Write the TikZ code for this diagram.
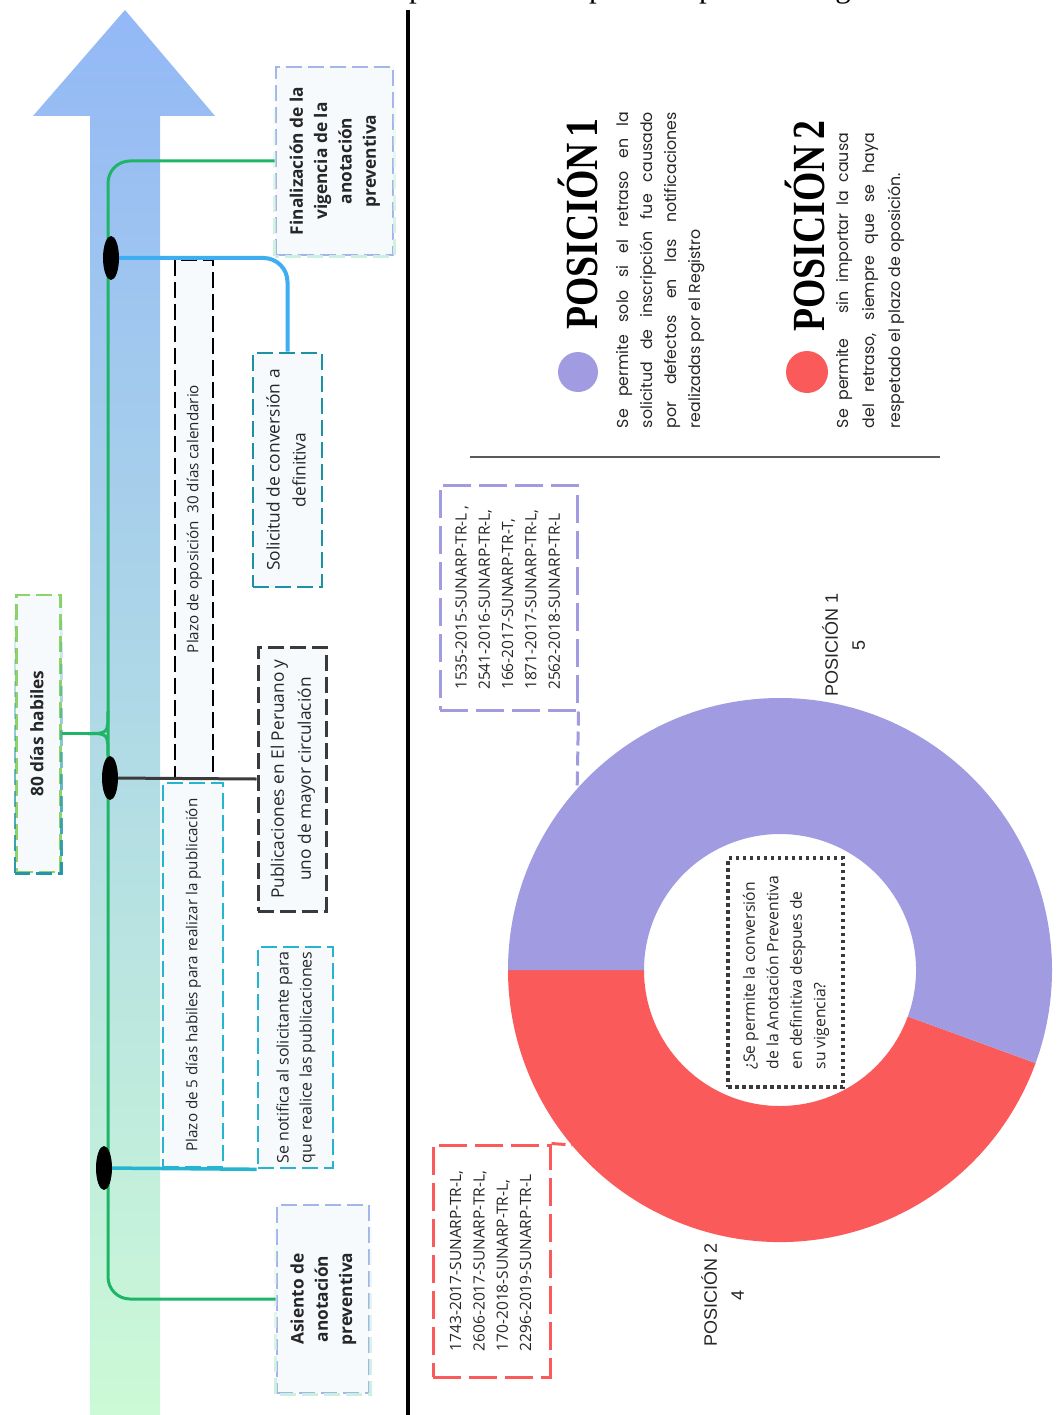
\documentclass[tikz,border=0pt]{standalone}
\usepackage{fontspec}
\usepackage{graphicx}
\setmainfont{Open Sans}
\newfontfamily\legfont{Poppins}
\newfontfamily\titlefont{Liberation Serif}
\newfontfamily\chartfont{Liberation Sans}
\usetikzlibrary{shapes.geometric,fadings}

\definecolor{ink}{HTML}{262626}
\definecolor{arrowtop}{RGB}{147,184,246}
\definecolor{arrowmid}{RGB}{170,207,236}
\definecolor{arrowbot}{RGB}{204,250,214}
\definecolor{spine}{RGB}{30,182,102}
\definecolor{skyline}{RGB}{62,174,240}
\definecolor{cyanline}{RGB}{38,180,208}
\definecolor{tealline}{RGB}{28,146,162}
\definecolor{darkline}{RGB}{58,58,58}
\definecolor{boxfill}{RGB}{247,250,253}
\definecolor{lavtop}{RGB}{166,180,236}
\definecolor{mintbot}{RGB}{204,240,222}
\definecolor{limetop}{RGB}{140,212,106}
\definecolor{tealbot}{RGB}{36,150,170}
\definecolor{posone}{RGB}{161,155,225}
\definecolor{postwo}{RGB}{251,90,90}
\definecolor{rulegray}{RGB}{90,90,90}

\tikzfading[name=fadedown, top color=transparent!100, bottom color=transparent!0]

% vertical (bottom-to-top) text block
\newcommand{\uptext}[2][c]{\rotatebox{90}{\begin{tabular}{@{}#1@{}}#2\end{tabular}}}

\tikzset{
  tlbox/.style={rectangle, fill=boxfill, inner sep=0pt, line width=2.6pt, dash pattern=on 16pt off 6pt, text=ink},
  gradedge/.style={line width=2.6pt, dash pattern=on 16pt off 6pt, path fading=fadedown, fit fading=true},
  dotmark/.style={ellipse, fill=black, minimum width=16pt, minimum height=44pt, inner sep=0pt},
  spineline/.style={draw=spine, line width=3pt},
  reflabel/.style={rectangle, fill=white, inner sep=0pt, line width=3pt, dash pattern=on 28pt off 8pt, text=ink, font=\fontsize{15.5}{23.3}\selectfont},
}

\begin{document}
\begin{tikzpicture}[x=1pt,y=-1pt]
\useasboundingbox (0,0) rectangle (1057,1415);
\clip (0,0) rectangle (1057,1415);
\fill[white] (0,0) rectangle (1057,1415);

% caption line running above the page edge
\node[anchor=base east, inner sep=0, text=black, font=\titlefont\fontsize{31}{31}\selectfont] (caption) at (924,-2.5) {de conversión de la anotación preventiva después del plazo de vigencia.};

% time arrow
\shade[top color=arrowtop, middle color=arrowmid, bottom color=arrowbot]
  (125,10) -- (215,116) -- (160,116) -- (160,1415) -- (90,1415) -- (90,116) -- (33,116) -- cycle;

% ---------- timeline boxes ----------
\node[tlbox, draw=lavtop, minimum width=117pt, minimum height=188pt, font=\bfseries\fontsize{17.3}{24.3}\selectfont] (finbox) at (334.5,161)
  {\uptext{Finalización de la\\vigencia de la\\anotación\\preventiva}};
\draw[gradedge, mintbot] (finbox.south west) rectangle (finbox.north east);

\node[tlbox, draw=lavtop, minimum width=92pt, minimum height=188pt, font=\bfseries\fontsize{17.3}{24.3}\selectfont] (asibox) at (323,1299)
  {\uptext{Asiento de\\anotación\\preventiva}};
\draw[gradedge, mintbot] (asibox.south west) rectangle (asibox.north east);

\node[tlbox, draw=limetop, minimum width=44pt, minimum height=277pt, font=\bfseries\fontsize{17.3}{24}\selectfont] (diasbox) at (38.5,733.5)
  {\uptext{80 días habiles}};
\draw[gradedge, tealbot] (diasbox.south west) rectangle (diasbox.north east);

\node[tlbox, draw=black, minimum width=38pt, minimum height=518pt, font=\fontsize{15.2}{22}\selectfont] (opobox) at (194,519)
  {\uptext{Plazo de oposición\ \ 30 días calendario}};

\node[tlbox, draw=tealline, minimum width=69pt, minimum height=234pt, font=\fontsize{17.4}{26}\selectfont] (solbox) at (287.5,470)
  {\uptext{Solicitud de conversión a\\definitiva}};

\node[tlbox, draw=darkline, line width=3pt, minimum width=68pt, minimum height=264pt, font=\fontsize{17.3}{27}\selectfont] (pubbox) at (292,779)
  {\uptext{Publicaciones en El Peruano y\\uno de mayor circulación}};

\node[tlbox, draw=cyanline, minimum width=60pt, minimum height=384pt, font=\fontsize{15.2}{22}\selectfont] (cincobox) at (193,975)
  {\uptext{Plazo de 5 días habiles para realizar la publicación}};

\node[tlbox, draw=cyanline, minimum width=75pt, minimum height=221pt, font=\fontsize{16}{23}\selectfont] (notbox) at (295.5,1057.5)
  {\uptext{Se notifica al solicitante para\\que realice las publicaciones}};

% ---------- timeline connectors ----------
\coordinate (d1) at (111,258);
\coordinate (d2) at (110,778);
\coordinate (d3) at (104,1168);
\coordinate (spinemid) at (108,700);
\coordinate (bracetip) at (88,733.5);

\draw[spineline, rounded corners=22pt] (finbox.west) -| (spinemid) |- (asibox.west);
\draw[spineline] (diasbox.east) -- (bracetip);
\draw[spineline] (bracetip) .. controls (108,733.5) .. (108,711);
\draw[spineline] (bracetip) .. controls (108,733.5) .. (108,756);

\draw[skyline, line width=4pt, rounded corners=24pt] (d1) -| (solbox.north);
\draw[darkline, line width=3pt] (d2) -- (pubbox.west);
\draw[cyanline, line width=3.5pt] (d3) -- (notbox.south west);

\node[dotmark] (dot1) at (d1) {};
\node[dotmark] (dot2) at (d2) {};
\node[dotmark] (dot3) at (d3) {};

% divider
\draw[black, line width=4pt] (408,10) -- (408,1415);

% ---------- legend ----------
\node[circle, fill=posone, minimum size=40pt, inner sep=0] (leg1) at (578,372) {};
\node[inner sep=0, text=black] (ttl1) at (578,224)
  {\rotatebox{90}{\scalebox{0.82}[1]{\titlefont\bfseries\fontsize{46}{46}\selectfont POSICIÓN\,1}}};
\node[inner sep=0, text=ink] (txt1) at (661,270)
  {\rotatebox{90}{\parbox{316pt}{\legfont\fontsize{15.8}{24}\selectfont Se permite solo si el retraso en la\linebreak solicitud de inscripción fue causado\linebreak por defectos en las notificaciones\linebreak realizadas por el Registro}}};

\node[circle, fill=postwo, minimum size=42pt, inner sep=0] (leg2) at (807,372) {};
\node[inner sep=0, text=black] (ttl2) at (805,226)
  {\rotatebox{90}{\scalebox{0.82}[1]{\titlefont\bfseries\fontsize{46}{46}\selectfont POSICIÓN\,2}}};
\node[inner sep=0, text=ink] (txt2) at (871,280.5)
  {\rotatebox{90}{\parbox{295pt}{\legfont\fontsize{15.8}{26}\selectfont Se permite\ \ \ sin importar la causa\linebreak del retraso, siempre que se haya\linebreak respetado el plazo de oposición.}}};

\draw[rulegray, line width=2pt] (470,457) -- (940,457);

% ---------- donut chart ----------
\coordinate (dc) at (780,970);
\fill[postwo] ([shift={(20:272)}]dc) arc[start angle=20, end angle=180, radius=272]
  -- ([shift={(180:136)}]dc) arc[start angle=180, end angle=20, radius=136] -- cycle;
\fill[posone] ([shift={(180:272)}]dc) arc[start angle=180, end angle=380, radius=272]
  -- ([shift={(20:136)}]dc) arc[start angle=380, end angle=180, radius=136] -- cycle;

\node[rectangle, fill=white, draw=darkline, line width=4pt, dash pattern=on 3.5pt off 3.5pt, inner sep=0,
      minimum width=115pt, minimum height=229pt, text=ink, font=\fontsize{15.7}{23.5}\selectfont] (qbox) at (785.5,972.5)
  {\uptext[l]{¿Se permite la conversión\\de la Anotación Preventiva\\en definitiva despues de\\su vigencia?}};

\node[reflabel, draw=posone, minimum width=137pt, minimum height=225pt] (plbox) at (508.5,597.5)
  {\uptext[l]{1535-2015-SUNARP-TR-L ,\\2541-2016-SUNARP-TR-L,\\166-2017-SUNARP-TR-T,\\1871-2017-SUNARP-TR-L,\\2562-2018-SUNARP-TR-L}};
\node[reflabel, draw=postwo, minimum width=117pt, minimum height=232pt] (rlbox) at (491.5,1261)
  {\uptext[l]{1743-2017-SUNARP-TR-L,\\2606-2017-SUNARP-TR-L,\\170-2018-SUNARP-TR-L,\\2296-2019-SUNARP-TR-L}};

\coordinate (p1tip) at (577,797);
\coordinate (p2tip) at (572,1145);
\draw[posone, line width=3pt, dash pattern=on 14pt off 6pt] (plbox.south east) -- (p1tip);
\draw[postwo, line width=3pt, dash pattern=on 14pt off 6pt] (rlbox.north east) -- (p2tip);

\node[inner sep=0, text=ink, font=\chartfont\fontsize{18}{27}\selectfont] (lab1) at (846,645) {\uptext{POSICIÓN 1\\5}};
\node[inner sep=0, text=ink, font=\chartfont\fontsize{18}{27}\selectfont] (lab2) at (725,1295) {\uptext{POSICIÓN 2\\4}};
\end{tikzpicture}
\end{document}
